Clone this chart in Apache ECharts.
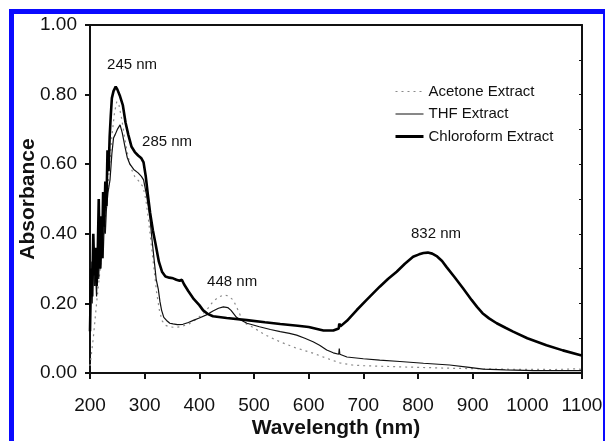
<!DOCTYPE html>
<html>
<head>
<meta charset="utf-8">
<script src="https://cdn.jsdelivr.net/npm/echarts@6/dist/echarts.min.js"></script>
<style>html,body{margin:0;padding:0;background:#fff;}#c{width:605px;height:441px;}</style>
</head>
<body>
<div id="c"></div>
<script>
// ---- data ----
const seriesNames = ['Acetone Extract', 'THF Extract', 'Chloroform Extract'];

const acetoneX = [200,203,206,209,212,216,220,225,230,235,240,245,249,253,258,264,270,276,282,290,297,302,307,312,317,322,327,332,338,345,355,365,380,395,405,413,425,435,444,452,462,471,480,487,496,520,547,575,608,630,657,680,700,761,850,950,1050,1090,1100];
const acetoneY = [0.02,0.06,0.10,0.15,0.20,0.26,0.32,0.40,0.48,0.58,0.68,0.75,0.78,0.77,0.73,0.67,0.62,0.585,0.564,0.55,0.535,0.50,0.44,0.37,0.30,0.23,0.18,0.15,0.137,0.133,0.131,0.133,0.14,0.155,0.168,0.18,0.205,0.218,0.224,0.222,0.21,0.18,0.147,0.14,0.133,0.11,0.09,0.073,0.057,0.044,0.029,0.023,0.021,0.018,0.014,0.011,0.010,0.012,0.010];

const thfX = [200,202,204,206,208,210,212,214,216,218,220,222,224,226,228,230,233,236.6,240,243,246,250,255,259,264,268,273,280,288,294,298,303,307,310,313,317,321,325,328,331,335,340,346,352,360,370,380,390,400,413,425,435,444,452,458,463,468,475,487,510,530,548,565,578,593,608,620,633,645,655,656,657,670,700,730,767,810,858,890,919,960,1011,1100];
const thfY = [0.15,0.32,0.20,0.36,0.25,0.30,0.22,0.35,0.27,0.40,0.30,0.38,0.33,0.43,0.40,0.47,0.52,0.555,0.63,0.675,0.685,0.70,0.713,0.69,0.65,0.62,0.60,0.585,0.575,0.565,0.555,0.515,0.475,0.44,0.39,0.33,0.27,0.24,0.205,0.18,0.16,0.151,0.143,0.141,0.139,0.14,0.145,0.152,0.158,0.167,0.178,0.186,0.19,0.188,0.18,0.17,0.16,0.153,0.143,0.133,0.125,0.119,0.114,0.109,0.10,0.09,0.08,0.066,0.058,0.054,0.07,0.054,0.046,0.041,0.037,0.033,0.028,0.023,0.017,0.011,0.009,0.007,0.007];

const chloroX = [200,202,204,206,208,210,212,214,216,218,220,222,224,226,228,230,232,234,236,238,240,243,247,250,255,260,265,270,276,282,288,294,298,302,306,310,315,320,326,332,338,345,352,358,364,368,372,380,390,400,407,415,425,450,487,520,548,580,600,627,645,655,656,658,670,688,706,730,745,761,776,791,802,810,818,826,835,844,852,867,882,898,908,918,930,944,960,974,1000,1035,1065,1096,1100];
const chloroY = [0.12,0.30,0.22,0.40,0.28,0.36,0.25,0.33,0.50,0.30,0.45,0.33,0.52,0.42,0.55,0.48,0.64,0.58,0.68,0.74,0.79,0.81,0.823,0.815,0.795,0.77,0.72,0.685,0.65,0.635,0.625,0.617,0.605,0.565,0.51,0.46,0.41,0.37,0.32,0.29,0.277,0.274,0.272,0.268,0.265,0.268,0.255,0.235,0.212,0.195,0.18,0.17,0.163,0.158,0.152,0.146,0.141,0.136,0.132,0.122,0.122,0.128,0.142,0.134,0.15,0.181,0.21,0.248,0.27,0.291,0.314,0.334,0.341,0.345,0.346,0.343,0.335,0.322,0.305,0.275,0.244,0.21,0.19,0.172,0.157,0.143,0.13,0.119,0.10,0.08,0.065,0.052,0.05];

const annotationText = ['245 nm', '285 nm', '448 nm', '832 nm'];
const annotationX = [277, 341, 460, 833];
const annotationY = [0.885, 0.664, 0.261, 0.40];

const xTicks = {min: 200, max: 1100, interval: 100};
const yTicks = {min: 0, max: 1, interval: 0.2};

// ---- chart ----
const FONT = '"Liberation Sans", Arial, Helvetica, sans-serif';
const zip = (xs, ys) => xs.map((x, i) => [x, ys[i]]);
const chart = echarts.init(document.getElementById('c'), null, {renderer: 'canvas'});

const annData = annotationText.map((t, i) => ({coord: [annotationX[i], annotationY[i]], value: t}));
const legendWidths = [1.2, 1, 3];
const legendTypes = [[2, 4], 'solid', 'solid'];
const legendColors = ['#8a8a8a', '#111', '#000'];

chart.setOption({
  backgroundColor: '#ffffff',
  animation: false,
  graphic: [{
    type: 'rect', left: 9, top: 9, z: 100, silent: true,
    shape: {x: 0, y: 0, width: 594, height: 440},
    style: {fill: 'none', stroke: '#0a0aff', lineWidth: 5}
  }],
  grid: {left: 90, right: 23, top: 25, bottom: 68, containLabel: false, outerBoundsMode: 'none'},
  legend: {
    orient: 'vertical', left: 389, top: 79,
    itemWidth: 28, itemHeight: 14, itemGap: 7.5,
    itemStyle: {opacity: 0},
    textStyle: {fontFamily: FONT, fontSize: 15, color: '#111'},
    data: seriesNames.map((n, i) => ({
      name: n,
      lineStyle: {width: legendWidths[i], type: legendTypes[i], color: legendColors[i]}
    }))
  },
  xAxis: [{
    type: 'value', min: xTicks.min, max: xTicks.max, interval: xTicks.interval,
    name: 'Wavelength (nm)', nameLocation: 'middle', nameGap: 45, nameMoveOverlap: false,
    nameTextStyle: {fontFamily: FONT, fontSize: 21, fontWeight: 'bold', color: '#111'},
    axisLine: {show: true, onZero: false, lineStyle: {color: '#111', width: 2}},
    axisTick: {show: true, inside: false, length: 6, lineStyle: {color: '#111', width: 2}},
    axisLabel: {fontFamily: FONT, fontSize: 19, color: '#111', margin: 23,
      formatter: v => String(v)},
    splitLine: {show: false}
  }, {
    type: 'value', position: 'top', min: xTicks.min, max: xTicks.max,
    axisLine: {show: true, onZero: false, lineStyle: {color: '#111', width: 2}},
    axisTick: {show: false}, axisLabel: {show: false}, splitLine: {show: false}
  }],
  yAxis: [{
    type: 'value', min: yTicks.min, max: yTicks.max, interval: yTicks.interval,
    name: 'Absorbance', nameLocation: 'middle', nameGap: 51, nameMoveOverlap: false,
    nameTextStyle: {fontFamily: FONT, fontSize: 21, fontWeight: 'bold', color: '#111'},
    axisLine: {show: true, onZero: false, lineStyle: {color: '#111', width: 2}},
    axisTick: {show: true, inside: false, length: 5, lineStyle: {color: '#111', width: 2}},
    axisLabel: {fontFamily: FONT, fontSize: 19, color: '#111', margin: 13,
      formatter: v => v.toFixed(2)},
    splitLine: {show: false}
  }, {
    type: 'value', position: 'right', min: yTicks.min, max: yTicks.max, interval: 0.1,
    axisLine: {show: true, onZero: false, lineStyle: {color: '#111', width: 2}},
    axisTick: {show: true, inside: true, length: 3, lineStyle: {color: '#111', width: 1}},
    axisLabel: {show: false}, splitLine: {show: false}
  }],
  series: [{
    name: seriesNames[0], type: 'line', showSymbol: false, symbol: 'none', smooth: false,
    data: zip(acetoneX, acetoneY),
    lineStyle: {color: '#8a8a8a', width: 1.2, type: [2, 4]},
    itemStyle: {color: '#8a8a8a'}
  }, {
    name: seriesNames[1], type: 'line', showSymbol: false, symbol: 'none',
    data: zip(thfX, thfY),
    lineStyle: {color: '#111', width: 1.2},
    itemStyle: {color: '#111'}
  }, {
    name: seriesNames[2], type: 'line', showSymbol: false, symbol: 'none',
    data: zip(chloroX, chloroY),
    lineStyle: {color: '#000', width: 2.6},
    itemStyle: {color: '#000'},
    markPoint: {
      symbol: 'circle', symbolSize: 1, silent: true,
      itemStyle: {color: 'rgba(0,0,0,0)'},
      label: {show: true, position: 'inside', formatter: p => p.value,
        fontFamily: FONT, fontSize: 15, color: '#111'},
      data: annData
    }
  }]
});
</script>
</body>
</html>
